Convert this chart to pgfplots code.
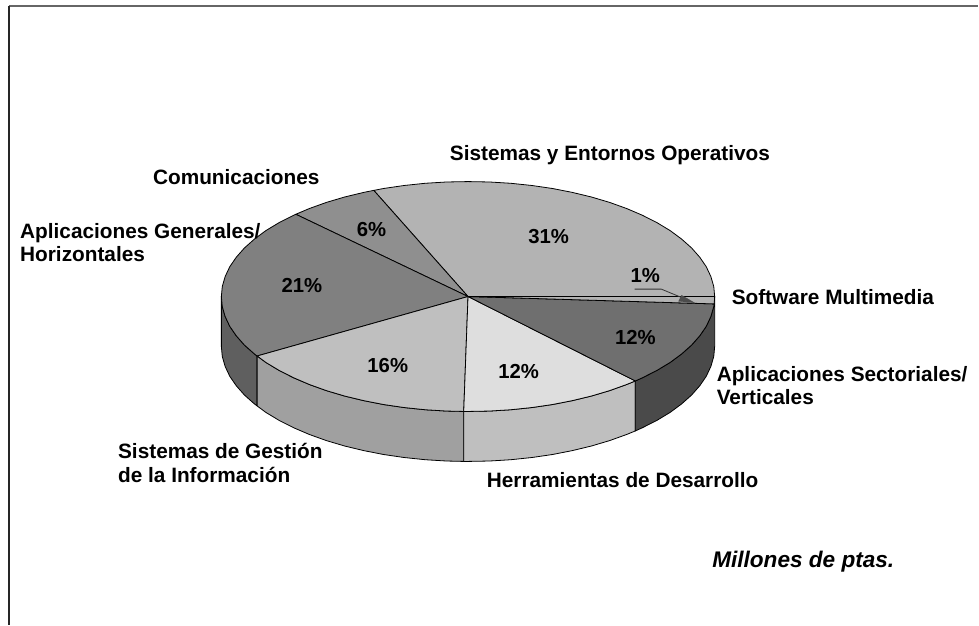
\documentclass[border=0pt]{standalone}
\usepackage{fontspec}
\setmainfont{Liberation Sans}
\usepackage{pgfplots}
\pgfplotsset{compat=1.18}
\definecolor{cSis}{HTML}{B3B3B3}
\definecolor{cCom}{HTML}{8F8F8F}
\definecolor{cGen}{HTML}{808080}
\definecolor{cGes}{HTML}{BFBFBF}
\definecolor{cHer}{HTML}{DEDEDE}
\definecolor{cSec}{HTML}{6F6F6F}
\definecolor{wGen}{HTML}{5F5F5F}
\definecolor{wGes}{HTML}{A0A0A0}
\definecolor{wHer}{HTML}{BFBFBF}
\definecolor{wSec}{HTML}{4A4A4A}
\tikzset{
  lbl/.style={anchor=base west,font=\fontsize{20.8}{24}\selectfont\bfseries,inner sep=0pt},
  pct/.style={anchor=center,font=\fontsize{20.3}{24}\selectfont\bfseries,inner sep=0pt},
}
\begin{document}
\begin{tikzpicture}
\begin{axis}[
  scale only axis,width=979pt,height=625pt,
  xmin=0,xmax=979,ymin=0,ymax=625,y dir=reverse,
  hide axis,clip=false,
  every axis plot/.append style={draw=black,line width=0.8pt,line join=round,mark=none},
]
% keeps the page at the full axis size
\path (axis cs:0,0) -- (axis cs:979,625);

% frame, only top and left
\addplot[draw=black!60,line width=1.2pt] coordinates {(9,6) (979,6)};
\addplot[draw=black!85,line width=1.2pt] coordinates {(9,6) (9,625)};

% side walls
\addplot[fill=wGen] coordinates {
(221.5,296.7) (221.5,346.7) (222.4,356.7) (225.3,366.7) (229.9,376.5) (236.4,386.0) (244.6,395.3) (254.6,404.2) (257.3,406.2)
(257.3,356.2) (254.6,354.2) (244.6,345.3) (236.4,336.0) (229.9,326.5) (225.3,316.7) (222.4,306.7) (221.5,296.7)};
\addplot[fill=wGes] coordinates {
(257.3,356.2) (257.3,406.2) (266.1,412.7) (279.2,420.6) (293.8,428.0) (309.7,434.8) (326.7,440.9) (344.9,446.3) (364.0,450.9) (383.9,454.8) (404.4,457.8) (425.5,460.0) (446.8,461.3) (464.0,461.7)
(464.0,411.7) (446.8,411.3) (425.5,410.0) (404.4,407.8) (383.9,404.8) (364.0,400.9) (344.9,396.3) (326.7,390.9) (309.7,384.8) (293.8,378.0) (279.2,370.6) (266.1,362.7) (257.3,356.2)};
\addplot[fill=wHer] coordinates {
(464.0,411.7) (464.0,461.7) (468.3,461.7) (489.8,461.3) (511.1,460.0) (532.2,457.8) (552.7,454.8) (572.6,450.9) (591.7,446.3) (609.9,440.9) (626.9,434.8) (635.7,431.2)
(635.7,381.2) (626.9,384.8) (609.9,390.9) (591.7,396.3) (572.6,400.9) (552.7,404.8) (532.2,407.8) (511.1,410.0) (489.8,411.3) (468.3,411.7) (464.0,411.7)};
\addplot[fill=wSec] coordinates {
(635.7,381.2) (635.7,431.2) (642.8,428.0) (657.4,420.6) (670.5,412.7) (682.0,404.2) (692.0,395.3) (700.2,386.0) (706.7,376.5) (711.3,366.7) (714.2,356.7) (715.1,346.7)
(715.1,296.7) (714.2,306.7) (711.3,316.7) (706.7,326.5) (700.2,336.0) (692.0,345.3) (682.0,354.2) (670.5,362.7) (657.4,370.6) (642.8,378.0) (635.7,381.2)};

% top face
\addplot[fill=cSis] coordinates {
(468.3,296.7) (715.1,296.7) (714.2,286.7) (711.3,276.7) (706.7,266.9) (700.2,257.4) (692.0,248.1) (682.0,239.2) (670.5,230.7) (657.4,222.8) (642.8,215.4) (626.9,208.6) (609.9,202.5) (591.7,197.1) (572.6,192.5) (552.7,188.6) (532.2,185.6) (511.1,183.4) (489.8,182.1) (468.3,181.7) (446.8,182.1) (425.5,183.4) (404.4,185.6) (383.9,188.6) (374.0,190.5) (468.3,296.7)};
\addplot[fill=cCom] coordinates {
(468.3,296.7) (374.0,190.5) (364.0,192.5) (344.9,197.1) (326.7,202.5) (309.7,208.6) (296.0,214.4) (468.3,296.7)};
\addplot[fill=cGen] coordinates {
(468.3,296.7) (296.0,214.4) (293.8,215.4) (279.2,222.8) (266.1,230.7) (254.6,239.2) (244.6,248.1) (236.4,257.4) (229.9,266.9) (225.3,276.7) (222.4,286.7) (221.5,296.7) (222.4,306.7) (225.3,316.7) (229.9,326.5) (236.4,336.0) (244.6,345.3) (254.6,354.2) (257.3,356.2) (468.3,296.7)};
\addplot[fill=cGes] coordinates {
(468.3,296.7) (257.3,356.2) (266.1,362.7) (279.2,370.6) (293.8,378.0) (309.7,384.8) (326.7,390.9) (344.9,396.3) (364.0,400.9) (383.9,404.8) (404.4,407.8) (425.5,410.0) (446.8,411.3) (464.0,411.7) (468.3,296.7)};
\addplot[fill=cHer] coordinates {
(468.3,296.7) (464.0,411.7) (468.3,411.7) (489.8,411.3) (511.1,410.0) (532.2,407.8) (552.7,404.8) (572.6,400.9) (591.7,396.3) (609.9,390.9) (626.9,384.8) (635.7,381.2) (468.3,296.7)};
\addplot[fill=cSec] coordinates {
(468.3,296.7) (635.7,381.2) (642.8,378.0) (657.4,370.6) (670.5,362.7) (682.0,354.2) (692.0,345.3) (700.2,336.0) (706.7,326.5) (711.3,316.7) (714.2,306.7) (714.6,304.1) (468.3,296.7)};
\addplot[fill=cSis] coordinates {
(468.3,296.7) (714.6,304.1) (715.1,296.7) (468.3,296.7)};

% leader of the 1% label
\addplot[draw=black!80,line width=0.8pt] coordinates {(635,289.3) (661.7,289.3) (690,301)};
\addplot[fill=black!70,draw=black!70,line width=0.3pt] coordinates {(695,303) (682,295.5) (679,301.5) (695,303)};

\node[pct] at (axis cs:549,237) {31\%};
\node[pct] at (axis cs:371.7,230) {6\%};
\node[pct] at (axis cs:302,286) {21\%};
\node[pct] at (axis cs:388,366) {16\%};
\node[pct] at (axis cs:519,372) {12\%};
\node[pct] at (axis cs:635.7,338) {12\%};
\node[pct] at (axis cs:645.7,275.7) {1\%};

\node[lbl] at (axis cs:450,160.5) {Sistemas y Entornos Operativos};
\node[lbl] at (axis cs:153,185) {Comunicaciones};
\node[lbl] at (axis cs:20,238.5) {Aplicaciones Generales/};
\node[lbl] at (axis cs:20,262) {Horizontales};
\node[lbl] at (axis cs:732,305) {Software Multimedia};
\node[lbl] at (axis cs:717,382) {Aplicaciones Sectoriales/};
\node[lbl] at (axis cs:717,405) {Verticales};
\node[lbl] at (axis cs:118,459) {Sistemas de Gestión};
\node[lbl] at (axis cs:118,483) {de la Información};
\node[lbl] at (axis cs:487,488) {Herramientas de Desarrollo};
\node[lbl,font=\fontsize{22.6}{26}\selectfont\bfseries\itshape] at (axis cs:712.5,568) {Millones de ptas.};
\end{axis}
\end{tikzpicture}
\end{document}
